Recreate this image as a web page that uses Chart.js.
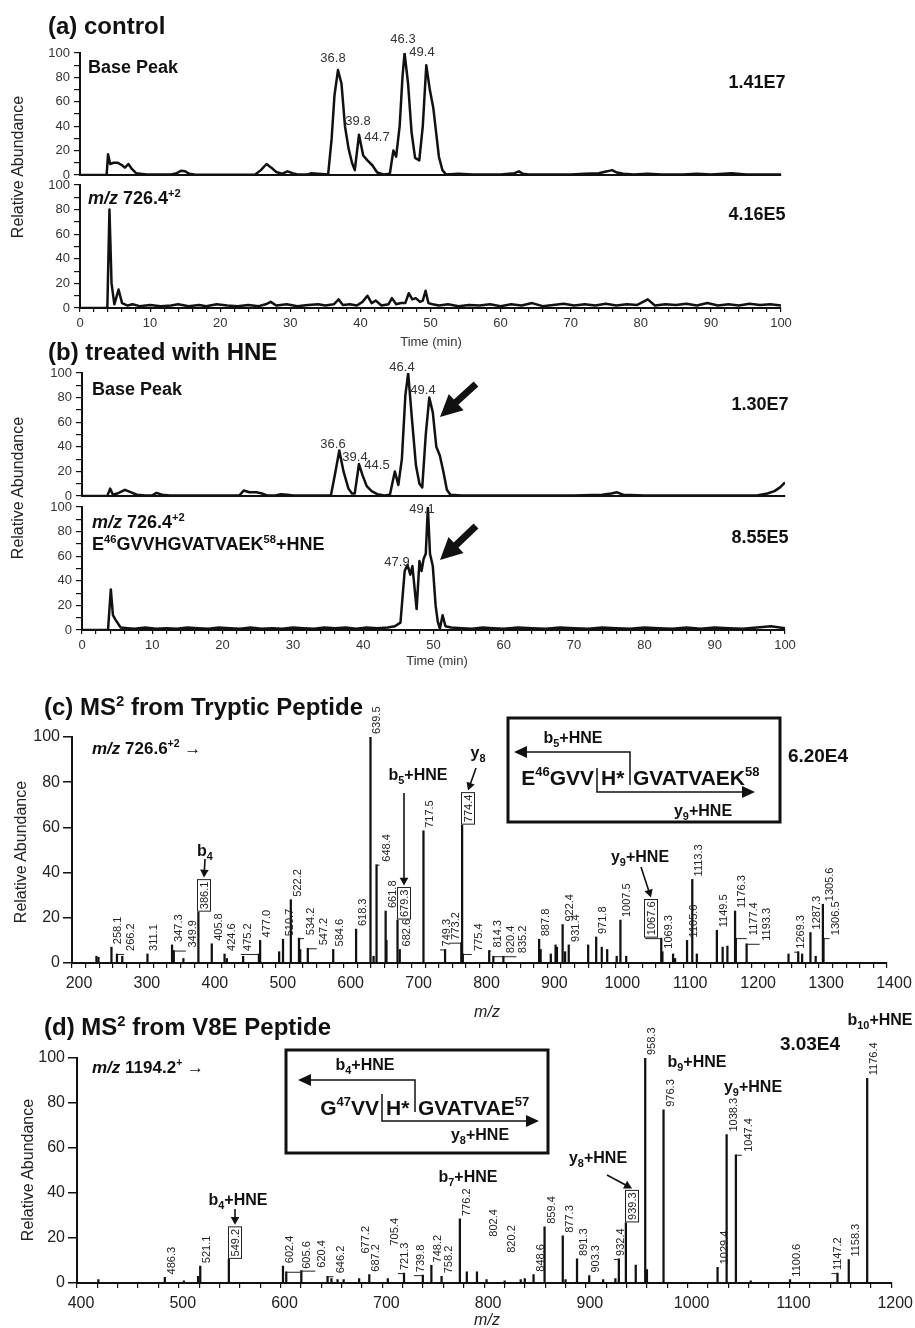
<!DOCTYPE html>
<html lang="en">
<head>
<meta charset="UTF-8">
<title>HNE-modified peptide LC-MS and MS2</title>
<script src="https://cdn.jsdelivr.net/npm/chart.js"></script>
<style>
  body { margin: 0; background: #fff; }
  #page { position: relative; width: 915px; height: 1328px; overflow: hidden;
          font-family: 'Liberation Sans', Arial, sans-serif; color: #111; }
  #page canvas, #page svg { position: absolute; left: 0; top: 0; }
  .t { position: absolute; white-space: nowrap; line-height: 1; }
  .l { transform: translateY(-50%); }
  .c { transform: translate(-50%, -50%); }
  .r { transform: translate(-100%, -50%); }
  .title { font-size: 24px; font-weight: bold; }
  .trace { font-size: 18px; font-weight: bold; }
  .scale { font-size: 18px; font-weight: bold; }
  .scale2 { font-size: 19px; font-weight: bold; }
  .peak { font-size: 13px; color: #333; }
  .ann { font-size: 16px; font-weight: bold; }
  .seq { font-size: 21px; font-weight: bold; }
  .axis { font-size: 13px; color: #333; }
  .mz { font-size: 16px; font-style: italic; color: #222; }
  .ylab { font-size: 16px; color: #222; transform: translate(-50%, -50%) rotate(-90deg); }
  sup { font-size: 0.62em; vertical-align: 0.62em; line-height: 0; }
  sub { font-size: 0.68em; vertical-align: -0.35em; line-height: 0; }
</style>
</head>
<body>
<div id="page">
  <canvas id="ctlBase" width="915" height="1328"></canvas>
  <canvas id="ctlIon" width="915" height="1328"></canvas>
  <canvas id="hneBase" width="915" height="1328"></canvas>
  <canvas id="hneIon" width="915" height="1328"></canvas>
  <canvas id="trypticMs2" width="915" height="1328"></canvas>
  <canvas id="v8eMs2" width="915" height="1328"></canvas>

  <svg width="915" height="1328">
    <g fill="none" stroke="#111">
      <rect x="508" y="718" width="272" height="104" stroke-width="3"/>
      <polyline points="630,785 630,752 524,752" stroke-width="1.5"/>
      <polyline points="597,768 597,792 744,792" stroke-width="1.5"/>
      <rect x="286" y="1050" width="262" height="103" stroke-width="3"/>
      <polyline points="415,1112 415,1080 308,1080" stroke-width="1.5"/>
      <polyline points="382,1094 382,1121 528,1121" stroke-width="1.5"/>
      <line x1="476" y1="384" x2="454" y2="404" stroke-width="7"/>
      <line x1="476" y1="526" x2="454" y2="547" stroke-width="7"/>
    </g>
    <g fill="#111">
      <polygon points="514,752 527,746 527,758"/>
      <polygon points="755,792 742,786 742,798"/>
      <polygon points="298,1080 311,1074 311,1086"/>
      <polygon points="539,1121 526,1115 526,1127"/>
      <polygon points="440,417 463.6,410.2 448.8,394"/>
      <polygon points="440,560 463.5,552.9 448.5,536.9"/>
    </g>
  </svg>

  <!-- (a) -->
  <div class="t l title" style="left:48px;top:26px">(a) control</div>
  <div class="t l trace" style="left:88px;top:67px">Base Peak</div>
  <div class="t l trace" style="left:88px;top:198px"><i>m/z</i> 726.4<sup>+2</sup></div>
  <div class="t c scale" style="left:757px;top:82px">1.41E7</div>
  <div class="t c scale" style="left:757px;top:214px">4.16E5</div>
  <div class="t c peak" style="left:333px;top:57px">36.8</div>
  <div class="t c peak" style="left:358px;top:120px">39.8</div>
  <div class="t c peak" style="left:377px;top:136px">44.7</div>
  <div class="t c peak" style="left:403px;top:38px">46.3</div>
  <div class="t c peak" style="left:422px;top:51px">49.4</div>
  <div class="t c axis" style="left:431px;top:341px">Time (min)</div>
  <div class="t ylab" style="left:18px;top:167px">Relative Abundance</div>

  <!-- (b) -->
  <div class="t l title" style="left:48px;top:352px">(b) treated with HNE</div>
  <div class="t l trace" style="left:92px;top:389px">Base Peak</div>
  <div class="t l trace" style="left:92px;top:522px"><i>m/z</i> 726.4<sup>+2</sup></div>
  <div class="t l trace" style="left:92px;top:544px">E<sup>46</sup>GVVHGVATVAEK<sup>58</sup>+HNE</div>
  <div class="t c scale" style="left:760px;top:404px">1.30E7</div>
  <div class="t c scale" style="left:760px;top:537px">8.55E5</div>
  <div class="t c peak" style="left:402px;top:366px">46.4</div>
  <div class="t c peak" style="left:423px;top:389px">49.4</div>
  <div class="t c peak" style="left:333px;top:443px">36.6</div>
  <div class="t c peak" style="left:355px;top:456px">39.4</div>
  <div class="t c peak" style="left:377px;top:464px">44.5</div>
  <div class="t c peak" style="left:422px;top:508px">49.1</div>
  <div class="t c peak" style="left:397px;top:561px">47.9</div>
  <div class="t c axis" style="left:437px;top:660px">Time (min)</div>
  <div class="t ylab" style="left:18px;top:488px">Relative Abundance</div>

  <!-- (c) -->
  <div class="t l title" style="left:44px;top:707px">(c) MS<sup>2</sup> from Tryptic Peptide</div>
  <div class="t l ann" style="left:92px;top:748px;font-size:17px"><i>m/z</i> 726.6<sup>+2</sup> &rarr;</div>
  <div class="t c scale2" style="left:818px;top:755px">6.20E4</div>
  <div class="t c ann" style="left:205px;top:851px">b<sub>4</sub></div>
  <div class="t c ann" style="left:418px;top:775px">b<sub>5</sub>+HNE</div>
  <div class="t c ann" style="left:478px;top:753px">y<sub>8</sub></div>
  <div class="t c ann" style="left:640px;top:857px">y<sub>9</sub>+HNE</div>
  <div class="t c ann" style="left:573px;top:738px">b<sub>5</sub>+HNE</div>
  <div class="t c ann" style="left:703px;top:811px">y<sub>9</sub>+HNE</div>
  <div class="t r seq" style="left:594px;top:777px">E<sup>46</sup>GVV</div>
  <div class="t l seq" style="left:601px;top:777px">H*</div>
  <div class="t l seq" style="left:633px;top:777px">GVATVAEK<sup>58</sup></div>
  <div class="t c mz" style="left:487px;top:1012px">m/z</div>
  <div class="t ylab" style="left:21px;top:852px">Relative Abundance</div>

  <!-- (d) -->
  <div class="t l title" style="left:44px;top:1027px">(d) MS<sup>2</sup> from V8E Peptide</div>
  <div class="t l ann" style="left:92px;top:1067px;font-size:17px"><i>m/z</i> 1194.2<sup>+</sup> &rarr;</div>
  <div class="t c scale2" style="left:810px;top:1043px">3.03E4</div>
  <div class="t c ann" style="left:880px;top:1020px">b<sub>10</sub>+HNE</div>
  <div class="t c ann" style="left:697px;top:1062px">b<sub>9</sub>+HNE</div>
  <div class="t c ann" style="left:753px;top:1087px">y<sub>9</sub>+HNE</div>
  <div class="t c ann" style="left:598px;top:1158px">y<sub>8</sub>+HNE</div>
  <div class="t c ann" style="left:468px;top:1177px">b<sub>7</sub>+HNE</div>
  <div class="t c ann" style="left:238px;top:1200px">b<sub>4</sub>+HNE</div>
  <div class="t c ann" style="left:365px;top:1065px">b<sub>4</sub>+HNE</div>
  <div class="t c ann" style="left:480px;top:1135px">y<sub>8</sub>+HNE</div>
  <div class="t r seq" style="left:379px;top:1107px">G<sup>47</sup>VV</div>
  <div class="t l seq" style="left:386px;top:1107px">H*</div>
  <div class="t l seq" style="left:418px;top:1107px">GVATVAE<sup>57</sup></div>
  <div class="t c mz" style="left:487px;top:1320px">m/z</div>
  <div class="t ylab" style="left:28px;top:1170px">Relative Abundance</div>
</div>

<script>
  // ---- tick labels ----
  const timeTickLabels = [0, 10, 20, 30, 40, 50, 60, 70, 80, 90, 100];
  const abundanceTickLabels = [0, 20, 40, 60, 80, 100];
  const trypticMzTicks = [200, 300, 400, 500, 600, 700, 800, 900, 1000, 1100, 1200, 1300, 1400];
  const v8eMzTicks = [400, 500, 600, 700, 800, 900, 1000, 1100, 1200];

  // ---- (a) control: base peak chromatogram ----
  const ctlBaseTime = [0, 3.8, 4.0, 4.3, 4.8, 5.4, 6.0, 6.4, 6.9, 7.4,
    8.0, 9.5, 11, 13, 13.8, 14.4, 15.0, 15.6, 16.5, 20,
    25, 25.8, 26.6, 27.3, 28.0, 28.8, 29.6, 30.3, 31.0, 32.5,
    33, 35.4, 35.9, 36.3, 36.8, 37.3, 37.8, 38.3, 38.8, 39.2,
    39.8, 40.4, 41.0, 41.7, 42.4, 43.3, 44.2, 44.7, 45.1, 45.6,
    46.0, 46.3, 46.8, 47.3, 47.8, 48.4, 48.9, 49.4, 49.9, 50.4,
    50.8, 51.2, 51.7, 52.2, 54, 56, 58, 60, 62, 62.6,
    63.2, 64, 67, 70, 72, 74, 75.2, 75.9, 76.6, 77.5,
    79, 81, 83, 86, 88, 90, 93, 95, 97, 100];
  const ctlBaseAbund = [0, 0, 17, 9, 10, 10, 8, 6, 9, 5,
    1.5, 0.5, 0.5, 0.5, 1.5, 3.5, 3, 1, 0.3, 0.3,
    0.5, 4, 9, 6, 2.5, 1, 3, 1.5, 0.5, 0.5,
    1.5, 0.5, 30, 65, 86, 75, 40, 22, 10, 4,
    33, 16, 12, 8, 2, 0.5, 1, 20, 15, 40,
    80, 100, 75, 35, 14, 12, 40, 90, 70, 55,
    35, 15, 4, 0.5, 1, 0.5, 0.5, 0.5, 1.5, 3,
    1, 0.5, 0.5, 0.5, 1, 1.5, 3, 4, 2, 1,
    0.5, 1, 0.5, 0.5, 1, 0.5, 1.5, 0.5, 0.5, 0.5];

  // ---- (a) control: m/z 726.4 ----
  const ctlIonTime = [0, 3.9, 4.2, 4.5, 4.9, 5.5, 6.0, 6.8, 7.5, 8.5,
    10, 11.5, 13, 14, 15.5, 17, 18, 19.5, 21, 22.5,
    24, 25.5, 26.5, 27.2, 28, 29.5, 31, 32.5, 34, 35,
    36.2, 36.9, 37.5, 38.5, 39.5, 40.3, 41.0, 41.6, 42.2, 43.0,
    44.0, 44.5, 45.1, 45.8, 46.4, 46.9, 47.4, 47.9, 48.5, 48.9,
    49.3, 49.7, 50.3, 51.2, 52.5, 54, 55.5, 57, 58.5, 60,
    61.5, 63, 64.5, 66, 67.5, 69, 70.5, 72, 73.5, 75,
    76.5, 78, 79.5, 81.0, 82, 83.5, 85, 86.5, 88, 89.5,
    91, 92.5, 94, 95.5, 97, 98.5, 100];
  const ctlIonAbund = [0, 0, 80, 20, 3, 15, 4, 2, 3, 1.5,
    2.5, 1.5, 2, 3, 1.5, 2.5, 1.5, 3, 2, 1.5,
    2.5, 1.5, 3, 5, 2, 3, 1.5, 2.5, 3, 2,
    3, 7, 2.5, 3, 2, 5, 10, 4, 6, 2,
    3, 8, 3, 4, 4, 12, 7, 8, 5, 6,
    14, 4, 3, 2, 3, 1.5, 2.5, 2, 3, 1.5,
    3, 2, 4, 1.5, 2.5, 3.5, 2, 3, 2, 3.5,
    2, 3, 2.5, 7, 2, 3, 2.5, 3.5, 2, 4,
    2, 3, 2, 3.5, 2.5, 3, 2];

  // ---- (b) HNE treated: base peak ----
  const hneBaseTime = [0, 3.6, 4.0, 4.4, 5.0, 6.1, 7.0, 7.8, 9.0, 10.0,
    10.6, 11.4, 12.5, 15, 18, 20, 22.4, 23.0, 23.8, 24.8,
    25.6, 26.3, 27.5, 28.3, 29.2, 30, 33, 35.4, 36.0, 36.6,
    37.2, 37.9, 38.4, 38.8, 39.4, 39.9, 40.5, 41.2, 42.0, 43.0,
    43.8, 44.5, 45.0, 45.5, 46.0, 46.4, 46.9, 47.5, 48.0, 48.4,
    48.9, 49.4, 49.9, 50.4, 50.9, 51.4, 51.9, 52.4, 54, 57,
    60, 65, 70, 74, 75.3, 76.1, 77.0, 80, 85, 90,
    94, 96, 97.5, 98.5, 99.3, 100];
  const hneBaseAbund = [0, 0, 6, 1, 2, 5, 3, 1, 0.5, 0.5,
    2.5, 1, 0.5, 0.5, 0.5, 0.5, 0.5, 4.5, 3, 3,
    2, 0.5, 0.5, 1.5, 1, 0.5, 0.5, 0.5, 18, 37,
    20, 6, 2, 2, 26, 17, 8, 4, 1.5, 0.5,
    1, 20, 9, 30, 82, 100, 65, 25, 10, 7,
    50, 80, 68, 40, 33, 20, 5, 1, 0.5, 0.5,
    0.5, 0.5, 0.5, 1, 2, 3, 1, 0.5, 0.5, 0.5,
    0.5, 0.5, 2, 4, 7, 11];

  // ---- (b) HNE treated: m/z 726.4 (E46-K58 + HNE) ----
  const hneIonTime = [0, 3.7, 4.1, 4.4, 4.8, 5.5, 6.5, 7.5, 9, 10.5,
    12, 13.5, 15, 16.5, 18, 19.5, 21, 22.5, 24, 25.5,
    27, 28.5, 30, 31.5, 33, 34.5, 36, 37.5, 39, 40.5,
    42, 43.5, 44.5, 45.3, 45.9, 46.3, 46.7, 47.0, 47.6, 48.0,
    48.3, 48.6, 48.9, 49.2, 49.5, 49.9, 50.3, 50.6, 50.9, 51.3,
    51.7, 52.5, 54, 55.5, 57, 58.5, 60, 62, 64, 66,
    68, 70, 72, 74, 76, 78, 80, 82, 84, 86,
    88, 90, 92, 94, 96, 98, 100];
  const hneIonAbund = [0, 0, 33, 12, 8, 2, 1.5, 1, 2, 1,
    1.5, 1, 2, 1.5, 1, 2, 1.5, 1, 2, 1,
    1.5, 1, 2, 1.5, 1, 2, 1.5, 2, 1, 2,
    1.5, 2, 3, 6, 48, 53, 45, 52, 17, 56,
    48, 58, 62, 100, 62, 52, 20, 7, 1, 12,
    3, 2, 1.5, 1, 2, 1.5, 1, 2, 1.5, 1,
    2, 1.5, 1, 2, 1.5, 1, 2, 1.5, 1, 2,
    1, 2, 1.5, 1, 2, 3, 1.5];

  // ---- (c) MS2 of tryptic peptide m/z 726.6 ----
  const trypticMz = [236, 239, 258.1, 266.2, 274, 311.1, 347.3, 349.9, 364, 386.1,
    405.8, 424.6, 428, 452, 475.2, 477.0, 505, 510.7, 522.2, 534.2,
    536, 547.2, 584.6, 618.3, 639.5, 644, 648.4, 661.8, 663, 679.3,
    682.6, 717.5, 749.3, 773.2, 774.4, 775.4, 814.3, 820.4, 835.2, 887.8,
    890, 905, 912, 914, 922.4, 926, 931.4, 960, 971.8, 980,
    988, 1002, 1007.5, 1016, 1067.6, 1069.3, 1085, 1088, 1105.6, 1113.3,
    1120, 1149.5, 1158, 1165, 1176.3, 1177.4, 1193.3, 1255, 1269.3, 1275,
    1287.3, 1295, 1305.6, 1306.5];
  const trypticAbund = [3, 2.5, 7, 4, 3, 4, 8, 5.5, 2, 22.5,
    8.5, 4, 2, 3, 4, 10, 5, 10.5, 28, 11,
    6, 6.5, 6, 15, 100, 3, 43.5, 23, 10, 19,
    6, 58.5, 6, 9, 61, 4, 5.5, 3, 3, 10.5,
    6, 4, 8, 7, 17, 5, 8, 8, 11.5, 7,
    6, 3, 19, 3, 11, 5, 4, 2, 10, 37,
    4, 14.5, 7, 7.5, 23, 11, 8.5, 4, 5, 4,
    13.5, 3, 26, 11];
  const trypticLabelled = [258.1, 266.2, 311.1, 347.3, 349.9, 386.1, 405.8, 424.6, 475.2, 477.0,
    510.7, 522.2, 534.2, 547.2, 584.6, 618.3, 639.5, 648.4, 661.8, 679.3, 682.6, 717.5,
    749.3, 773.2, 774.4, 775.4, 814.3, 820.4, 835.2, 887.8, 922.4, 931.4, 971.8, 1007.5,
    1067.6, 1069.3, 1105.6, 1113.3, 1149.5, 1176.3, 1177.4, 1193.3, 1269.3, 1287.3, 1305.6, 1306.5];
  const trypticBoxed = [386.1, 679.3, 774.4, 1067.6];

  // ---- (d) MS2 of V8E peptide m/z 1194.2 ----
  const v8eMz = [421, 486.3, 505, 519, 521.1, 549.2, 602.4, 605.6, 620.4, 646.2,
    650, 656, 662, 677.2, 687.2, 705.4, 721.3, 739.8, 748.2, 758.2,
    776.2, 783, 793, 802.4, 820.2, 836, 840, 848.6, 859.4, 877.3,
    880, 891.3, 903.3, 917, 929, 932.4, 939.3, 949, 958.3, 960,
    976.3, 1029.4, 1038.3, 1047.4, 1062, 1100.6, 1147.2, 1158.3, 1176.4];
  const v8eAbund = [1.5, 2.5, 1, 3, 7.5, 10.5, 7.5, 5, 5.5, 3,
    2, 1.5, 1.5, 2, 3.7, 2, 4.4, 3.5, 7.8, 3,
    28.5, 5, 5, 1.5, 1, 1.5, 2, 3.7, 25, 21,
    1.5, 10.7, 3.3, 1.5, 2, 10.7, 26.7, 8, 100, 6,
    77, 7, 66, 57, 1, 1.5, 4.4, 10.4, 91];
  const v8eLabelled = [486.3, 521.1, 549.2, 602.4, 605.6, 620.4, 646.2, 677.2, 687.2, 705.4,
    721.3, 739.8, 748.2, 758.2, 776.2, 802.4, 820.2, 848.6, 859.4, 877.3, 891.3, 903.3,
    932.4, 939.3, 958.3, 976.3, 1029.4, 1038.3, 1047.4, 1100.6, 1147.2, 1158.3, 1176.4];
  const v8eBoxed = [549.2, 939.3];

  // ---- layout / style ----
  const W = 915, H = 1328;
  const FONT = "'Liberation Sans', Arial, sans-serif";
  const INK = '#111';

  // label shifts (px) where the original uses leader lines
  const trypticNudge = { 266.2: [7, 0], 349.9: [12, 0], 475.2: [-18, 0], 534.2: [5, 0], 547.2: [9, 0],
    648.4: [3, 0], 749.3: [-5, 0], 773.2: [-12, 0], 775.4: [9, 0], 814.3: [2, 0], 820.4: [11, 0],
    835.2: [13, 0], 1067.6: [-16, 0], 1177.4: [11, 0], 1193.3: [13, 0], 1269.3: [-4, 0], 1306.5: [6, 0] };
  const v8eNudge = { 605.6: [14, 0], 620.4: [14, 0], 646.2: [6, 0], 677.2: [0, -22], 705.4: [0, -30],
    721.3: [-6, 0], 739.8: [-9, 0], 802.4: [0, -40], 820.2: [0, -25], 932.4: [-5, 0],
    1047.4: [6, 0], 1147.2: [-6, 0] };
  const trypticArrows = [{ to: 386.1, from: [205, 859] }, { to: 679.3, from: [null, 793] },
    { to: 774.4, from: [476, 768] }, { to: 1067.6, from: [641, 867] }];
  const v8eArrows = [{ to: 549.2, from: [null, 1209] }, { to: 939.3, from: [607, 1175] }];

  function steps(a, b, step) {
    const out = [];
    for (let v = a; v <= b + 1e-9; v += step) out.push(Math.round(v * 100) / 100);
    return out;
  }

  function drawArrow(ctx, x1, y1, x2, y2, head) {
    const a = Math.atan2(y2 - y1, x2 - x1);
    ctx.beginPath();
    ctx.moveTo(x1, y1);
    ctx.lineTo(x2 - head * 0.8 * Math.cos(a), y2 - head * 0.8 * Math.sin(a));
    ctx.stroke();
    ctx.beginPath();
    ctx.moveTo(x2, y2);
    ctx.lineTo(x2 - head * Math.cos(a - 0.5), y2 - head * Math.sin(a - 0.5));
    ctx.lineTo(x2 - head * Math.cos(a + 0.5), y2 - head * Math.sin(a + 0.5));
    ctx.closePath();
    ctx.fill();
  }

  function chromatogram(id, times, values, area, withTimeAxis) {
    const xH = withTimeAxis ? 30 : 0, yW = 46;
    return new Chart(document.getElementById(id), {
      type: 'line',
      data: {
        datasets: [{
          data: times.map((t, i) => ({ x: t, y: values[i] })),
          borderColor: INK, borderWidth: 2.5, pointRadius: 0, tension: 0, borderJoinStyle: 'round'
        }]
      },
      options: {
        responsive: false, animation: false, events: [],
        layout: { padding: { left: area.left - yW, right: W - area.right, top: area.top, bottom: H - area.bottom - xH } },
        plugins: { legend: { display: false }, tooltip: { enabled: false } },
        scales: {
          x: {
            type: 'linear', min: 0, max: 100,
            afterFit: s => { s.height = xH; },
            afterBuildTicks: s => { s.ticks = steps(0, 100, 2).map(v => ({ value: v })); },
            border: { color: INK, width: 2 },
            grid: { drawOnChartArea: false, drawTicks: withTimeAxis, tickLength: 4, color: INK, lineWidth: 1.2 },
            ticks: {
              display: withTimeAxis, autoSkip: false, maxRotation: 0, padding: 4, color: '#333',
              font: { family: FONT, size: 13 },
              callback: v => timeTickLabels.includes(v) ? v : ''
            }
          },
          y: {
            min: 0, max: 100,
            afterFit: s => { s.width = yW; },
            afterBuildTicks: s => { s.ticks = steps(0, 100, 10).map(v => ({ value: v })); },
            border: { color: INK, width: 2 },
            grid: { drawOnChartArea: false, tickLength: 6, color: INK, lineWidth: 1.2 },
            ticks: {
              autoSkip: false, padding: 4, color: '#333', font: { family: FONT, size: 13 },
              callback: v => abundanceTickLabels.includes(v) ? v : ''
            }
          }
        }
      }
    });
  }

  function peakLabels(mz, ab, labelled, boxed, nudges, arrows) {
    return {
      id: 'peakLabels',
      afterDatasetsDraw(chart) {
        const ctx = chart.ctx, xs = chart.scales.x, ys = chart.scales.y;
        const boxTop = {};
        ctx.save();
        ctx.font = '11px ' + FONT;
        ctx.fillStyle = '#222';
        ctx.strokeStyle = '#222';
        ctx.lineWidth = 1;
        labelled.forEach(m => {
          const i = mz.indexOf(m);
          const px = xs.getPixelForValue(m), py = ys.getPixelForValue(ab[i]);
          const [dx, dy] = nudges[m] || [0, 0];
          const lx = px + dx, ly = py + dy - 3;
          if (dx) {
            ctx.beginPath();
            ctx.moveTo(px, py + 0.5);
            ctx.lineTo(lx, py + 0.5);
            ctx.stroke();
          }
          const txt = m.toFixed(1), w = ctx.measureText(txt).width;
          ctx.save();
          ctx.translate(Math.round(lx), ly);
          ctx.rotate(-Math.PI / 2);
          ctx.textAlign = 'left';
          ctx.textBaseline = 'top';
          ctx.fillText(txt, 0, 1);
          if (boxed.includes(m)) ctx.strokeRect(-2, -0.5, w + 4, 13);
          ctx.restore();
          boxTop[m] = [Math.round(lx) + 6, ly - w - 3];
        });
        ctx.fillStyle = INK;
        ctx.strokeStyle = INK;
        ctx.lineWidth = 1.6;
        arrows.forEach(a => {
          const [tx, ty] = boxTop[a.to];
          drawArrow(ctx, a.from[0] == null ? tx : a.from[0], a.from[1], tx, ty - 1, 9);
        });
        ctx.restore();
      }
    };
  }

  function spectrum(id, mz, ab, area, range, tickLabels, labelOffset, labelPlugin) {
    const xH = 34, yW = 46;
    return new Chart(document.getElementById(id), {
      type: 'bar',
      data: {
        datasets: [{
          data: mz.map((m, i) => ({ x: m, y: ab[i] })),
          backgroundColor: INK, barThickness: 1.6
        }]
      },
      options: {
        responsive: false, animation: false, events: [],
        layout: { padding: { left: area.left - yW, right: W - area.right, top: area.top, bottom: H - area.bottom - xH } },
        plugins: { legend: { display: false }, tooltip: { enabled: false } },
        scales: {
          x: {
            type: 'linear', offset: false, min: range[0], max: range[1],
            afterFit: s => { s.height = xH; },
            afterBuildTicks: s => { s.ticks = steps(range[0], range[1], 20).map(v => ({ value: v })); },
            border: { color: INK, width: 2 },
            grid: { offset: false, drawOnChartArea: false, tickLength: 5, color: INK, lineWidth: 1.2 },
            ticks: {
              autoSkip: false, maxRotation: 0, padding: 6, labelOffset: labelOffset, color: '#222',
              font: { family: FONT, size: 16 },
              callback: v => tickLabels.includes(v) ? v : ''
            }
          },
          y: {
            min: 0, max: 100,
            afterFit: s => { s.width = yW; },
            afterBuildTicks: s => { s.ticks = abundanceTickLabels.map(v => ({ value: v })); },
            border: { color: INK, width: 2 },
            grid: { drawOnChartArea: false, tickLength: 9, color: INK, lineWidth: 1.5 },
            ticks: { autoSkip: false, padding: 3, color: '#222', font: { family: FONT, size: 16 } }
          }
        }
      },
      plugins: [labelPlugin]
    });
  }

  chromatogram('ctlBase', ctlBaseTime, ctlBaseAbund, { left: 80, right: 781, top: 53, bottom: 175 }, false);
  chromatogram('ctlIon', ctlIonTime, ctlIonAbund, { left: 80, right: 781, top: 185, bottom: 308 }, true);
  chromatogram('hneBase', hneBaseTime, hneBaseAbund, { left: 82, right: 785, top: 373, bottom: 496 }, false);
  chromatogram('hneIon', hneIonTime, hneIonAbund, { left: 82, right: 785, top: 507, bottom: 630 }, true);

  spectrum('trypticMs2', trypticMz, trypticAbund, { left: 72, right: 887, top: 737, bottom: 963 },
    [200, 1400], trypticMzTicks, 7,
    peakLabels(trypticMz, trypticAbund, trypticLabelled, trypticBoxed, trypticNudge, trypticArrows));
  spectrum('v8eMs2', v8eMz, v8eAbund, { left: 77, right: 892, top: 1058, bottom: 1283 },
    [400, 1200], v8eMzTicks, 4,
    peakLabels(v8eMz, v8eAbund, v8eLabelled, v8eBoxed, v8eNudge, v8eArrows));
</script>
</body>
</html>
